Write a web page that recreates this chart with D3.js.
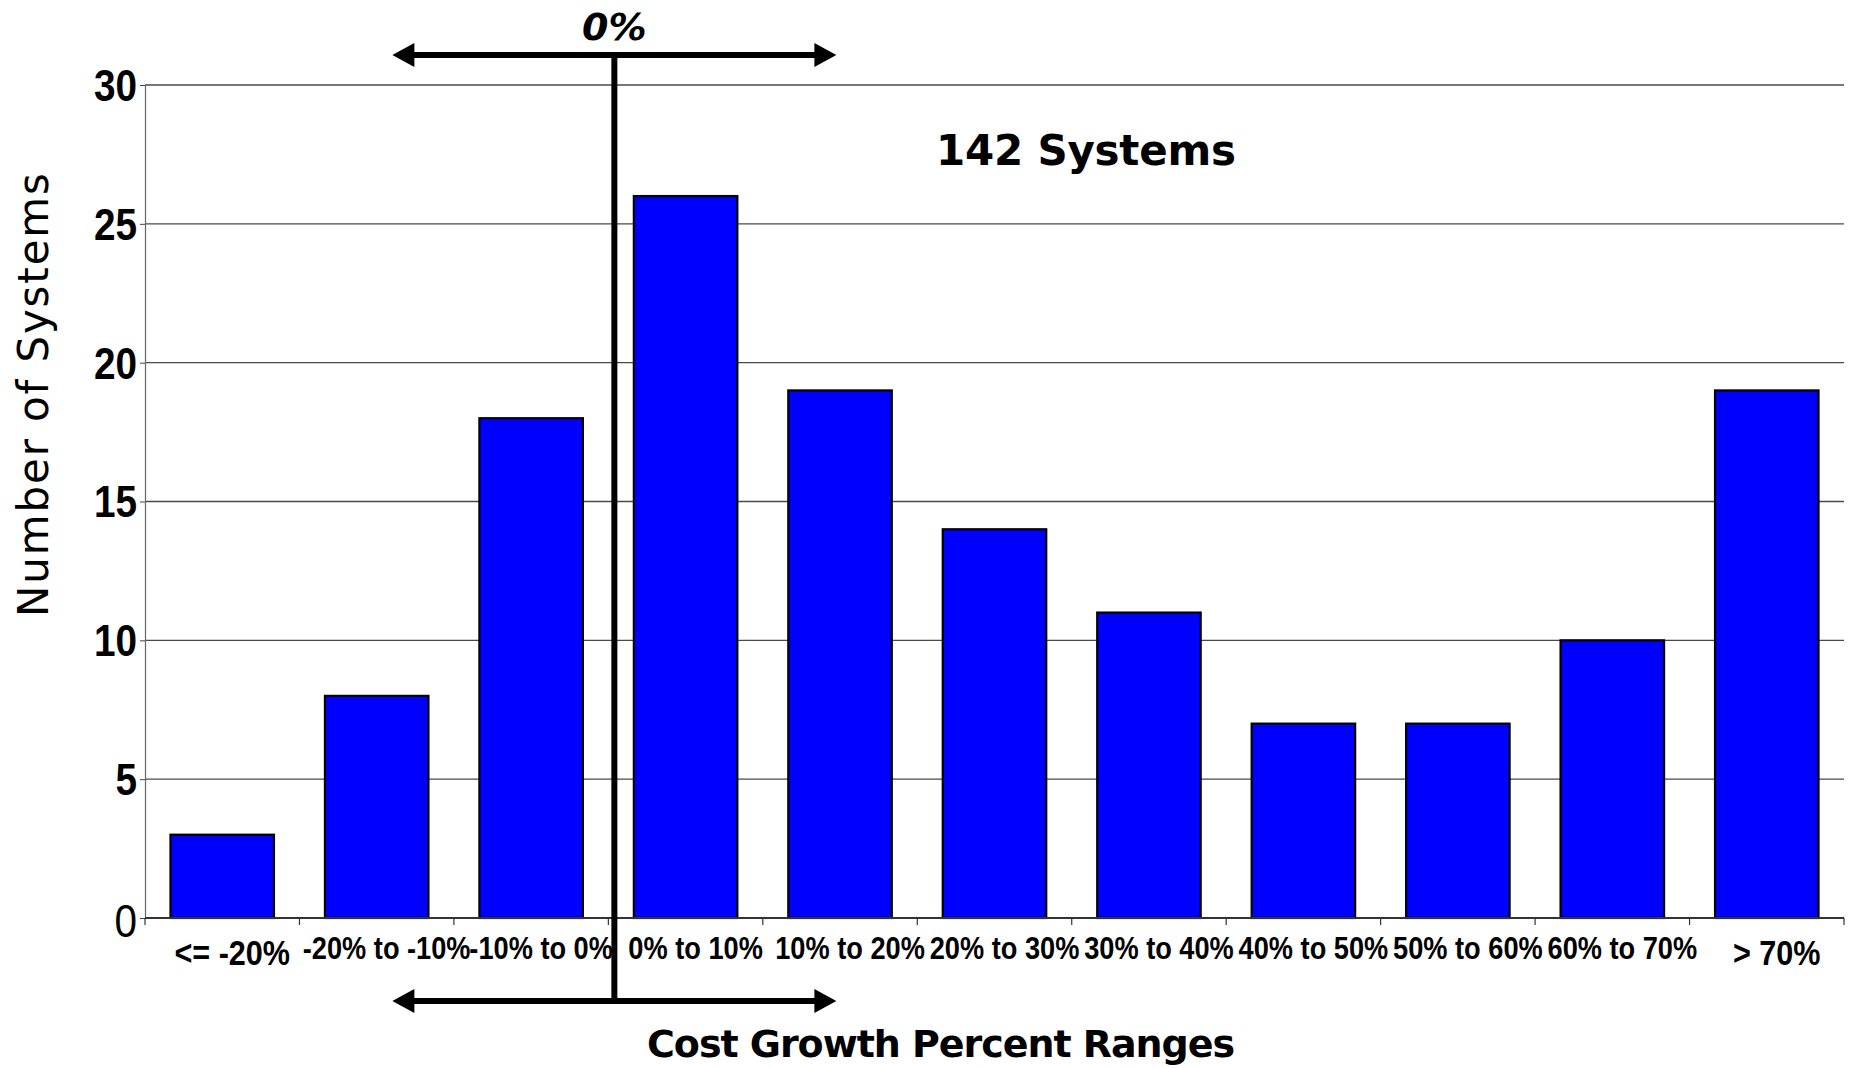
<!DOCTYPE html>
<html lang="en">
<head>
    <meta charset="UTF-8">
    <title>Cost Growth Percent Ranges</title>
    <style>
        html, body { margin: 0; padding: 0; background: #fff; }
    </style>
</head>
<body>
    <svg id="chart" width="1851" height="1068"></svg>
    <script src="https://d3js.org/d3.v7.min.js"></script>
    <script>
        // cost growth bins and how many systems fell in each
        var categories = ["<= -20%", "-20% to -10%", "-10% to 0%", "0% to 10%", "10% to 20%",
            "20% to 30%", "30% to 40%", "40% to 50%", "50% to 60%", "60% to 70%", "> 70%"];
        var systemCounts = [3, 8, 18, 26, 19, 14, 11, 7, 7, 10, 19];
        var yTicks = [0, 5, 10, 15, 20, 25, 30];

        var comic = "'Comic Sans MS', 'DejaVu Sans', sans-serif";
        var narrow = "'Liberation Sans', Arial, sans-serif";   // squeezed with scaleX below

        var svg = d3.select("#chart"),
            margin = {top: 85, right: 7, bottom: 150, left: 145},
            width = +svg.attr("width") - margin.left - margin.right,
            height = +svg.attr("height") - margin.top - margin.bottom;

        var g = svg.append("g").attr("transform", "translate(" + margin.left + "," + margin.top + ")");

        var x = d3.scaleBand()
            .domain(categories)
            .range([0, width])
            .paddingInner(0.33)
            .paddingOuter(0.165);

        var y = d3.scaleLinear()
            .domain([0, 30])
            .range([height, 0]);

        // grid lines
        g.selectAll(".grid")
            .data(yTicks.filter(function (d) { return d > 0; }))
            .enter()
            .append("line")
            .attr("class", "grid")
            .attr("x1", 0)
            .attr("x2", width)
            .attr("y1", function (d) { return y(d); })
            .attr("y2", function (d) { return y(d); })
            .attr("stroke", "#4a4a4a")
            .attr("stroke-width", 1.3);

        // y axis (labels drawn separately so they can be condensed)
        var yAxis = g.append("g")
            .call(d3.axisLeft(y).tickValues(yTicks).tickSize(5).tickFormat(""));
        yAxis.select(".domain").attr("stroke", "#666").attr("stroke-width", 1.2);
        yAxis.selectAll(".tick line").attr("stroke", "#444");

        g.selectAll(".ylabel")
            .data(yTicks)
            .enter()
            .append("text")
            .attr("class", "ylabel")
            .attr("transform", function (d) { return "translate(-8," + y(d) + ") scale(0.88,1)"; })
            .attr("dy", function (d) { return d === 0 ? "0.42em" : "0.36em"; })
            .attr("text-anchor", "end")
            .style("font-family", narrow)
            .style("font-size", function (d) { return d === 0 ? "46px" : "44px"; })
            .style("font-weight", function (d) { return d === 0 ? "normal" : "bold"; })
            .text(function (d) { return d; });

        // bars
        g.selectAll(".bar")
            .data(systemCounts)
            .enter()
            .append("rect")
            .attr("class", "bar")
            .attr("x", function (d, i) { return x(categories[i]); })
            .attr("y", function (d) { return y(d); })
            .attr("width", x.bandwidth())
            .attr("height", function (d) { return height - y(d); })
            .attr("fill", "#0000ff")
            .attr("stroke", "#000")
            .attr("stroke-width", 2.2);

        // x axis, ticks sit on the band edges
        var step = x.step();
        var xAxis = g.append("g").attr("transform", "translate(0," + height + ")");
        xAxis.append("line")
            .attr("x1", 0).attr("x2", width)
            .attr("stroke", "#333").attr("stroke-width", 2);
        xAxis.selectAll(".xtick")
            .data(d3.range(categories.length + 1))
            .enter()
            .append("line")
            .attr("x1", function (d) { return d * width / categories.length; })
            .attr("x2", function (d) { return d * width / categories.length; })
            .attr("y1", 0).attr("y2", 7)
            .attr("stroke", "#333").attr("stroke-width", 1.2);

        function isEnd(i) { return i === 0 || i === categories.length - 1; }

        xAxis.selectAll(".xlabel")
            .data(categories)
            .enter()
            .append("text")
            .attr("class", "xlabel")
            .attr("transform", function (d, i) {
                return "translate(" + (x(d) + x.bandwidth() / 2 + 10) + "," + (isEnd(i) ? 47 : 41) + ") scale(0.85,1)";
            })
            .attr("text-anchor", "middle")
            .style("font-family", narrow)
            .style("font-weight", "bold")
            .style("font-size", function (d, i) { return isEnd(i) ? "36px" : "32px"; })
            .text(function (d) { return d; });

        // titles
        svg.append("text")
            .attr("transform", "translate(48,395) rotate(-90)")
            .attr("text-anchor", "middle")
            .style("font-family", comic)
            .style("font-size", "42px")
            .attr("textLength", 444)
            .text("Number of Systems");

        svg.append("text")
            .attr("x", 941)
            .attr("y", 1057)
            .attr("text-anchor", "middle")
            .style("font-family", comic)
            .style("font-weight", "bold")
            .style("font-size", "38px")
            .attr("textLength", 588)
            .text("Cost Growth Percent Ranges");

        svg.append("text")
            .attr("x", 1086)
            .attr("y", 165)
            .attr("text-anchor", "middle")
            .style("font-family", comic)
            .style("font-weight", "bold")
            .style("font-size", "42px")
            .attr("textLength", 300)
            .text("142 Systems");

        // the 0% divider with its arrows
        var zeroX = margin.left + 3 * step + 6,
            armLen = 222,
            topY = 55,
            botY = 1001;

        svg.append("line")
            .attr("x1", zeroX).attr("x2", zeroX)
            .attr("y1", topY).attr("y2", botY)
            .attr("stroke", "#000").attr("stroke-width", 6);

        function drawArrow(yPos) {
            svg.append("line")
                .attr("x1", zeroX - armLen + 18).attr("x2", zeroX + armLen - 18)
                .attr("y1", yPos).attr("y2", yPos)
                .attr("stroke", "#000").attr("stroke-width", 6);
            svg.append("path")
                .attr("d", "M" + (zeroX - armLen) + "," + yPos + " l22,-12 l0,24 z")
                .attr("fill", "#000");
            svg.append("path")
                .attr("d", "M" + (zeroX + armLen) + "," + yPos + " l-22,-12 l0,24 z")
                .attr("fill", "#000");
        }
        drawArrow(topY);
        drawArrow(botY);

        svg.append("text")
            .attr("x", zeroX)
            .attr("y", 40)
            .attr("text-anchor", "middle")
            .style("font-family", comic)
            .style("font-weight", "bold")
            .style("font-style", "italic")
            .style("font-size", "38px")
            .text("0%");
    </script>
</body>
</html>
